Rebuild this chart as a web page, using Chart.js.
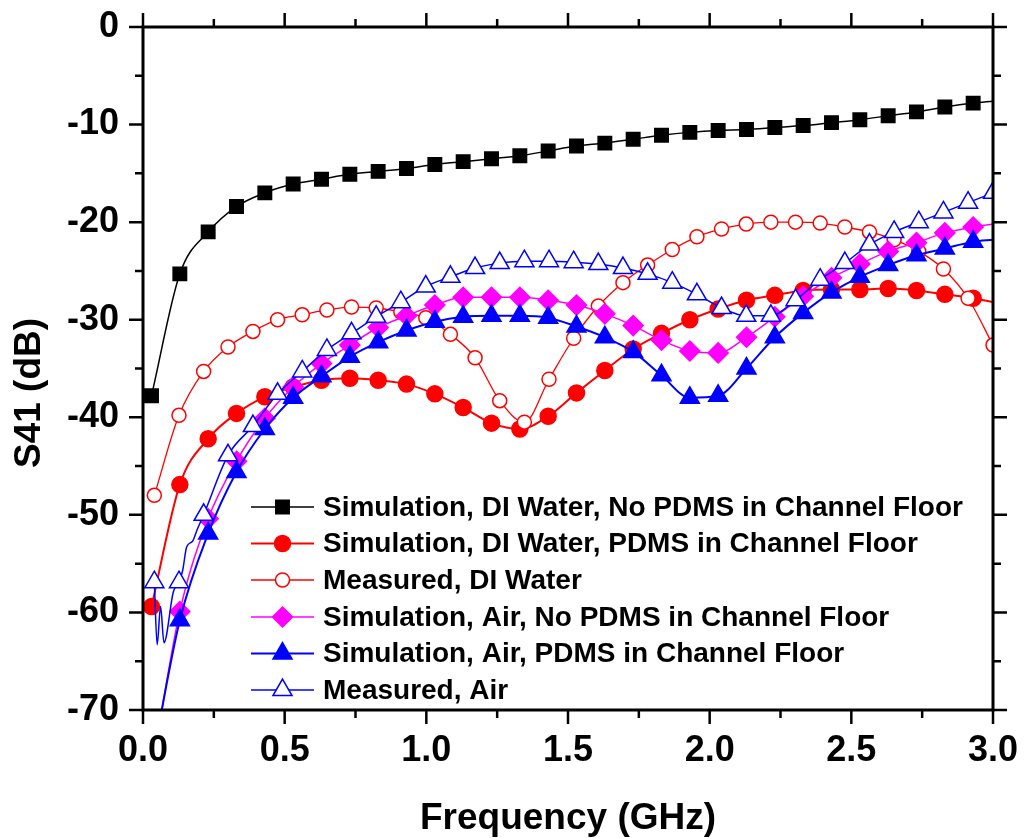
<!DOCTYPE html>
<html>
<head>
<meta charset="utf-8">
<script src="https://cdn.jsdelivr.net/npm/chart.js@4.4.0/dist/chart.umd.min.js"></script>
<style>
    html, body { margin: 0; padding: 0; background: #fff; }
    #wrap { width: 1024px; height: 838px; }
</style>
</head>
<body>
<div id="wrap"><canvas id="s41Chart" width="1024" height="838"></canvas></div>
<script>
// Frequency points (GHz)
const simFreq = [0.03, 0.13, 0.23, 0.33, 0.43, 0.53, 0.63, 0.73, 0.83, 0.93, 1.03, 1.13, 1.23, 1.33, 1.43, 1.53,
    1.63, 1.73, 1.83, 1.93, 2.03, 2.13, 2.23, 2.33, 2.43, 2.53, 2.63, 2.73, 2.83, 2.93, 3.0];
const airSimFreq = [0.04, 0.13, 0.23, 0.33, 0.43, 0.53, 0.63, 0.73, 0.83, 0.93, 1.03, 1.13, 1.23, 1.33, 1.43, 1.53,
    1.63, 1.73, 1.83, 1.93, 2.03, 2.13, 2.23, 2.33, 2.43, 2.53, 2.63, 2.73, 2.83, 2.93, 3.0];
const measFreq = [0.04, 0.127, 0.214, 0.30, 0.388, 0.475, 0.562, 0.649, 0.736, 0.823, 0.91, 0.998, 1.085, 1.172,
    1.259, 1.346, 1.433, 1.52, 1.607, 1.694, 1.781, 1.868, 1.955, 2.042, 2.129, 2.216, 2.303, 2.39, 2.477, 2.564,
    2.651, 2.738, 2.825, 2.912, 3.0];
const measAirFreq = [0.04, 0.05, 0.062, 0.074, 0.107, 0.127, 0.14, 0.154, 0.175, 0.19, 0.214, 0.30, 0.388, 0.475,
    0.562, 0.649, 0.736, 0.823, 0.91, 0.998, 1.085, 1.172, 1.259, 1.346, 1.433, 1.52, 1.607, 1.694, 1.781, 1.868,
    1.955, 2.042, 2.129, 2.216, 2.303, 2.39, 2.477, 2.564, 2.651, 2.738, 2.825, 2.912, 3.0];

// S41 (dB)
const simWaterNoPdms = [-37.8, -25.3, -21.0, -18.4, -17.0, -16.1, -15.6, -15.1, -14.8, -14.5, -14.1, -13.8, -13.5,
    -13.2, -12.7, -12.2, -11.9, -11.5, -11.1, -10.8, -10.6, -10.5, -10.3, -10.1, -9.8, -9.5, -9.1, -8.7, -8.2, -7.8, -7.6];
const simWaterPdms = [-59.4, -46.9, -42.2, -39.6, -37.9, -36.9, -36.2, -36.0, -36.2, -36.6, -37.6, -39.0, -40.6,
    -41.2, -39.9, -37.5, -35.2, -33.0, -31.4, -30.0, -28.9, -28.0, -27.5, -27.0, -26.9, -26.9, -26.8, -27.0, -27.4, -27.8, -28.2];
const measWater = [-48.0, -39.8, -35.3, -32.8, -31.2, -30.0, -29.5, -29.0, -28.7, -28.8, -29.2, -29.8, -31.5, -33.9,
    -38.3, -40.5, -36.1, -31.9, -28.6, -26.2, -24.4, -22.8, -21.5, -20.7, -20.2, -20.0, -20.0, -20.1, -20.5, -21.0,
    -21.8, -23.0, -24.8, -27.8, -32.6];
const simAirNoPdms = [-74.5, -59.9, -50.4, -44.5, -40.1, -36.9, -34.5, -32.6, -30.8, -29.6, -28.5, -27.7, -27.7,
    -27.7, -28.0, -28.5, -29.4, -30.6, -32.1, -33.2, -33.4, -31.8, -29.7, -27.6, -25.7, -24.3, -23.0, -22.1, -21.1, -20.5, -20.2];
const simAirPdms = [-74.0, -60.8, -51.9, -45.6, -41.2, -38.0, -35.8, -33.8, -32.3, -31.1, -30.2, -29.7, -29.6,
    -29.6, -29.8, -30.7, -31.8, -33.3, -35.7, -38.0, -37.8, -35.0, -31.8, -29.3, -27.2, -25.6, -24.4, -23.4, -22.7, -22.0, -21.8];
const measAir = [-56.9, -63.3, -59.4, -63.1, -57.9, -56.9, -55.7, -53.3, -52.7, -51.6, -50.0, -43.9, -40.9, -37.6,
    -35.3, -33.1, -31.4, -29.7, -28.2, -26.6, -25.6, -24.7, -24.2, -24.0, -24.0, -24.1, -24.3, -24.7, -25.3, -26.2,
    -27.4, -28.8, -29.6, -29.6, -28.0, -25.9, -24.2, -22.3, -21.0, -20.0, -19.0, -18.0, -17.0];

const FONT = '"Liberation Sans", Arial, sans-serif';

function pts(xs, ys) {
    return xs.map((f, i) => ({ x: f, y: ys[i] }));
}

// marcador em todos os pontos menos o ultimo (3.0 GHz)
function simRadius(xs, r, skipFirst) {
    return xs.map((f, i) => (i === xs.length - 1 || (skipFirst && i === 0)) ? 0 : r);
}

const series = [
    { label: 'Simulation, DI Water, No PDMS in Channel Floor', data: pts(simFreq, simWaterNoPdms),
      color: '#000000', fill: '#000000', style: 'rect', r: 9.5, lw: 1.5, radius: simRadius(simFreq, 9.5) },
    { label: 'Simulation, DI Water, PDMS in Channel Floor', data: pts(simFreq, simWaterPdms),
      color: '#ff0000', fill: '#ff0000', style: 'circle', r: 8, lw: 2, radius: simRadius(simFreq, 8) },
    { label: 'Measured, DI Water', data: pts(measFreq, measWater),
      color: '#ff0000', fill: '#ffffff', style: 'circle', r: 7, lw: 1.3, radius: 7 },
    { label: 'Simulation, Air, No PDMS in Channel Floor', data: pts(airSimFreq, simAirNoPdms),
      color: '#ff00ff', fill: '#ff00ff', style: 'rectRot', r: 10, lw: 1.5, radius: simRadius(airSimFreq, 10, true) },
    { label: 'Simulation, Air, PDMS in Channel Floor', data: pts(airSimFreq, simAirPdms),
      color: '#0000ff', fill: '#0000ff', style: 'triangle', r: 11, lw: 2, radius: simRadius(airSimFreq, 11, true) },
    { label: 'Measured, Air', data: pts(measAirFreq, measAir),
      color: '#0000ff', fill: '#ffffff', style: 'triangle', r: 11, lw: 1.5,
      radius: measAirFreq.map(f => measFreq.includes(f) ? 11 : 0) }
];

function marker(ctx, style, x, y, r) {
    ctx.beginPath();
    if (style === 'rect') {
        const s = Math.SQRT1_2 * r;
        ctx.rect(x - s, y - s, 2 * s, 2 * s);
    } else if (style === 'circle') {
        ctx.arc(x, y, r, 0, Math.PI * 2);
    } else if (style === 'rectRot') {
        ctx.moveTo(x, y - r); ctx.lineTo(x + r, y); ctx.lineTo(x, y + r); ctx.lineTo(x - r, y);
    } else if (style === 'triangle') {
        for (let k = 0; k < 3; k++) {
            const a = k * 2 * Math.PI / 3;
            const px = x + Math.sin(a) * r, py = y - Math.cos(a) * r;
            k ? ctx.lineTo(px, py) : ctx.moveTo(px, py);
        }
    }
    ctx.closePath();
}

// Moldura, ticks menores/maiores nos quatro lados, titulos e legenda
const framePlugin = {
    id: 'framePlugin',
    afterDraw(chart) {
        const { ctx, chartArea: a, scales: { x, y } } = chart;
        ctx.save();
        ctx.strokeStyle = '#000';
        ctx.lineCap = 'butt';

        const major = 14, minor = 8;
        const xt = x.ticks.map(t => t.value);
        const yt = y.ticks.map(t => t.value);

        ctx.lineWidth = 2.5;
        ctx.beginPath();
        xt.forEach((v, i) => {
            const px = x.getPixelForValue(v);
            ctx.moveTo(px, a.bottom); ctx.lineTo(px, a.bottom + major);
            ctx.moveTo(px, a.top); ctx.lineTo(px, a.top - major);
            if (i < xt.length - 1) {
                const pm = x.getPixelForValue((v + xt[i + 1]) / 2);
                ctx.moveTo(pm, a.bottom); ctx.lineTo(pm, a.bottom + minor);
                ctx.moveTo(pm, a.top); ctx.lineTo(pm, a.top - minor);
            }
        });
        yt.forEach((v, i) => {
            const py = y.getPixelForValue(v);
            ctx.moveTo(a.left, py); ctx.lineTo(a.left - major, py);
            ctx.moveTo(a.right, py); ctx.lineTo(a.right + major, py);
            if (i < yt.length - 1) {
                const pm = y.getPixelForValue((v + yt[i + 1]) / 2);
                ctx.moveTo(a.left, pm); ctx.lineTo(a.left - minor, pm);
                ctx.moveTo(a.right, pm); ctx.lineTo(a.right + minor, pm);
            }
        });
        ctx.stroke();

        ctx.lineWidth = 3;
        ctx.strokeRect(a.left, a.top, a.right - a.left, a.bottom - a.top);

        // titulos dos eixos
        ctx.fillStyle = '#000';
        ctx.font = 'bold 37px ' + FONT;
        ctx.textAlign = 'center';
        ctx.textBaseline = 'alphabetic';
        ctx.fillText('Frequency (GHz)', (a.left + a.right) / 2, 829);
        ctx.save();
        ctx.translate(40, 393);
        ctx.rotate(-Math.PI / 2);
        ctx.fillText('S41 (dB)', 0, 0);
        ctx.restore();

        // legenda
        const rowY = [507, 543.5, 580, 617, 653.5, 690];
        ctx.font = 'bold 28px ' + FONT;
        ctx.textAlign = 'left';
        ctx.textBaseline = 'middle';
        series.forEach((s, i) => {
            const yy = rowY[i];
            ctx.strokeStyle = s.color;
            ctx.lineWidth = s.lw;
            ctx.beginPath();
            ctx.moveTo(251, yy); ctx.lineTo(314, yy);
            ctx.stroke();
            marker(ctx, s.style, 282.5, yy, s.r);
            ctx.fillStyle = s.fill;
            ctx.fill();
            ctx.lineWidth = 1.5;
            ctx.stroke();
            ctx.fillStyle = '#000';
            ctx.fillText(s.label, 323, yy + 1);
        });
        ctx.restore();
    }
};

const datasets = series.map((s, i) => ({
    label: s.label,
    data: s.data,
    order: series.length - i,
    borderColor: s.color,
    borderWidth: s.lw,
    backgroundColor: s.fill,
    pointStyle: s.style,
    pointRadius: s.radius,
    pointBackgroundColor: s.fill,
    pointBorderColor: s.color,
    pointBorderWidth: 1.5,
    cubicInterpolationMode: 'monotone',
    fill: false
}));

new Chart(document.getElementById('s41Chart'), {
    type: 'line',
    data: { datasets },
    options: {
        responsive: false,
        animation: false,
        devicePixelRatio: 1,
        layout: { padding: { top: 27, right: 31, left: 0, bottom: 0 } },
        plugins: { legend: { display: false }, tooltip: { enabled: false } },
        scales: {
            x: {
                type: 'linear', min: 0, max: 3,
                grid: { display: false, drawTicks: false },
                border: { display: false },
                ticks: {
                    stepSize: 0.5, padding: 19, color: '#000',
                    font: { family: FONT, size: 36, weight: 'bold' },
                    callback: v => v.toFixed(1), maxRotation: 0
                },
                afterFit: scale => {
                    scale.height = 128;
                    scale.paddingLeft = 0;
                    scale.paddingRight = 0;
                }
            },
            y: {
                type: 'linear', min: -70, max: 0,
                grid: { display: false, drawTicks: false },
                border: { display: false },
                ticks: {
                    stepSize: 10, padding: 24, color: '#000',
                    font: { family: FONT, size: 36, weight: 'bold' },
                    callback: v => String(v)
                },
                afterFit: scale => {
                    scale.width = 143;
                    scale.paddingTop = 0;
                    scale.paddingBottom = 0;
                }
            }
        }
    },
    plugins: [framePlugin]
});
</script>
</body>
</html>
